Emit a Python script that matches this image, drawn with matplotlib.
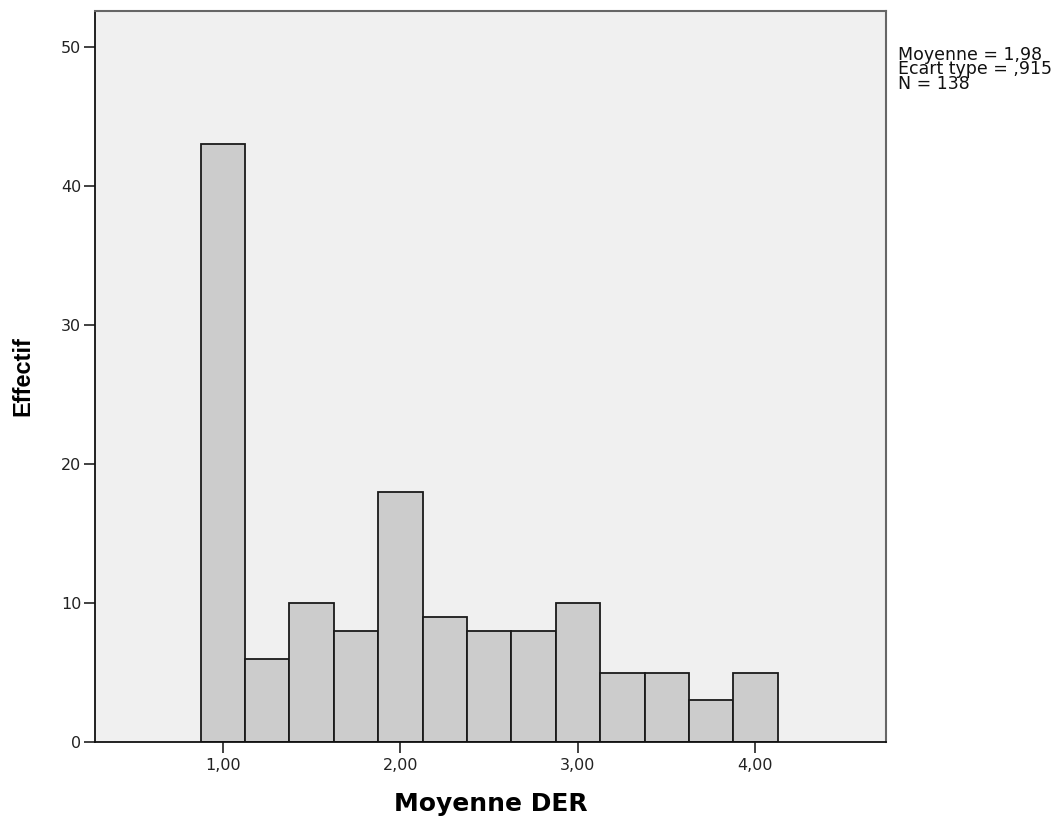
import matplotlib
matplotlib.use("Agg")
import matplotlib.pyplot as plt

# histogram bins (centres) and counts
bin_centres = [1.00, 1.25, 1.50, 1.75, 2.00, 2.25, 2.50, 2.75, 3.00, 3.25, 3.50, 3.75, 4.00]
counts = [43, 6, 10, 8, 18, 9, 8, 8, 10, 5, 5, 3, 5]
bin_width = 0.25

x_ticks = [1.0, 2.0, 3.0, 4.0]
x_tick_labels = ["1,00", "2,00", "3,00", "4,00"]
y_ticks = [0, 10, 20, 30, 40, 50]
stats_lines = ["Moyenne = 1,98", "Ecart type = ,915", "N = 138"]

plt.rcParams['font.family'] = ['DejaVu Sans']

fig = plt.figure(figsize=(10.64, 8.23), dpi=100)
ax = fig.add_axes([0.0893, 0.0984, 0.7434, 0.8882])
ax.set_facecolor("#F0F0F0")

ax.bar(bin_centres, counts, width=bin_width, color="#CCCCCC",
       edgecolor="#1a1a1a", linewidth=1.3, zorder=2)

ax.set_xlim(0.28, 4.735)
ax.set_ylim(0, 52.6)
ax.set_xticks(x_ticks)
ax.set_xticklabels(x_tick_labels)
ax.set_yticks(y_ticks)
ax.tick_params(direction="out", length=8, width=1.3, labelsize=11.5,
               colors="#333333", labelcolor="#222222")
ax.tick_params(axis="x", pad=3.5)
ax.tick_params(axis="y", pad=2)

for side in ["left", "bottom"]:
    ax.spines[side].set_color("#111111")
    ax.spines[side].set_linewidth(1.3)
for side in ["top", "right"]:
    ax.spines[side].set_color("#666666")
    ax.spines[side].set_linewidth(1.5)

ax.set_xlabel("Moyenne DER", fontsize=18, fontweight="bold", labelpad=14)
ax.set_ylabel("Effectif", fontsize=17, fontweight="bold", labelpad=19,
              family="Liberation Sans")

fig.text(0.8440, 0.9445, "\n".join(stats_lines), fontsize=12.5,
         va="top", ha="left", linespacing=0.76, color="#111111")

fig.savefig("out.png", dpi=100)
